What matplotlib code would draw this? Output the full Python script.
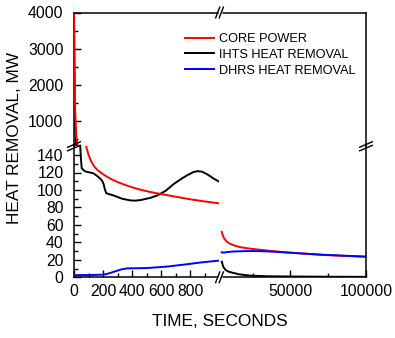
import matplotlib
matplotlib.use("Agg")
import matplotlib.pyplot as plt
from matplotlib.ticker import FixedLocator, MultipleLocator, NullLocator
from matplotlib.lines import Line2D

plt.rcParams['font.family'] = ['Liberation Sans', 'DejaVu Sans']

# ---- data: early transient (0-1000 s) ----
t_core_early = [0, 3, 8, 15, 25, 40, 60, 83, 90, 100, 115, 134, 160, 200, 249, 300, 364, 400,
                457, 526, 600, 687, 800, 900, 992]
core_early = [4000, 2600, 1300, 600, 330, 240, 180, 150, 146, 140, 134, 128, 123, 118, 113, 109,
              105, 103, 100.3, 97.6, 95.3, 92.6, 89.3, 86.8, 84.8]

t_ihts_early = [0, 4, 8, 14, 25, 42, 48, 53, 70, 88, 110, 134, 160, 180, 195, 203, 212, 221, 245,
                272, 330, 388, 420, 457, 526, 572, 630, 687, 740, 780, 820, 849, 880, 918, 960, 992]
ihts_early = [3950, 2000, 900, 330, 220, 152, 135, 125, 122, 120.7, 120, 119, 116, 113, 110, 107,
              101, 96.4, 95, 93.7, 90, 88, 87.8, 88.4, 91, 93.7, 99, 107, 113, 117, 120.5, 121.5,
              121, 117.7, 113, 110]

t_dhrs_early = [0, 100, 200, 225, 250, 275, 295, 330, 364, 430, 502, 641, 779, 872, 990]
dhrs_early = [2.5, 2.6, 3.0, 3.8, 5.0, 6.4, 7.5, 9.2, 10.2, 10.4, 10.6, 12.3, 15.0, 17.0, 19.0]

# ---- data: long-term (to 100000 s) ----
t_core_late = [4500, 5000, 5500, 6300, 7400, 8500, 10000, 13000, 16300, 21000, 27400, 38000,
               49500, 60000, 71600, 85000, 100000]
core_late = [52, 49, 46.5, 44, 41.7, 40, 38.3, 36.3, 34.7, 33.3, 32, 30, 28.2, 27, 25.6, 24.5, 23.6]

t_ihts_late = [4500, 5500, 7000, 9000, 11500, 16000, 24000, 35000, 50000, 70000, 100000]
ihts_late = [17.9, 12, 8.4, 6.5, 5.3, 3.4, 1.8, 1.2, 0.9, 0.7, 0.5]

t_dhrs_late = [4500, 6000, 8000, 12000, 20000, 30000, 40000, 49500, 60000, 71600, 85000, 100000]
dhrs_late = [28.6, 28.3, 28.9, 29.5, 30.0, 30.0, 29.2, 28.2, 27.0, 25.8, 24.8, 23.6]

labels = ['CORE POWER', 'IHTS HEAT REMOVAL', 'DHRS HEAT REMOVAL']
colors = ['#ff0000', '#000000', '#0000ff']

W, H = 395, 338
fig = plt.figure(figsize=(W / 100, H / 100), dpi=100)

def fx(px):
    return px / W

def fy(py):
    return 1 - py / H

xl0, xm, xr = 74, 219.5, 366
yt, ym, yb = 12.5, 146.3, 277.3

ax_tl = fig.add_axes([fx(xl0), fy(ym), fx(xm) - fx(xl0), fy(yt) - fy(ym)])
ax_tr = fig.add_axes([fx(xm), fy(ym), fx(xr) - fx(xm), fy(yt) - fy(ym)])
ax_bl = fig.add_axes([fx(xl0), fy(yb), fx(xm) - fx(xl0), fy(ym) - fy(yb)])
ax_br = fig.add_axes([fx(xm), fy(yb), fx(xr) - fx(xm), fy(ym) - fy(yb)])

series_early = [(t_core_early, core_early), (t_ihts_early, ihts_early), (t_dhrs_early, dhrs_early)]
series_late = [(t_core_late, core_late), (t_ihts_late, ihts_late), (t_dhrs_late, dhrs_late)]

lw = 1.4
handles = []
for ax in (ax_tl, ax_bl):
    for (t, v), c, lab in zip(series_early, colors, labels):
        ln, = ax.plot(t, v, color=c, lw=lw, label=lab, zorder=3 if c != '#ff0000' else 4)
        if ax is ax_bl:
            handles.append(ln)
for ax in (ax_tr, ax_br):
    for (t, v), c in zip(series_late, colors):
        ax.plot(t, v, color=c, lw=lw)

for ax in (ax_tl, ax_bl):
    ax.set_xlim(0, 1000)
for ax in (ax_tr, ax_br):
    ax.set_xlim(3000, 100000)
for ax in (ax_tl, ax_tr):
    ax.set_ylim(300, 4000)
for ax in (ax_bl, ax_br):
    ax.set_ylim(0, 150)

spine_w = 1.1
for ax in (ax_tl, ax_tr, ax_bl, ax_br):
    for s in ax.spines.values():
        s.set_linewidth(spine_w)
    ax.tick_params(which='both', direction='in', width=1.0, labelsize=11.3)
    ax.tick_params(which='major', length=5)
    ax.tick_params(which='minor', length=3)
    ax.patch.set_visible(False)

ax_tl.spines[['bottom', 'right']].set_visible(False)
ax_tr.spines[['bottom', 'left']].set_visible(False)
ax_bl.spines[['top', 'right']].set_visible(False)
ax_br.spines[['top', 'left']].set_visible(False)

# top-left: y ticks only
ax_tl.yaxis.set_major_locator(FixedLocator([1000, 2000, 3000, 4000]))
ax_tl.yaxis.set_minor_locator(MultipleLocator(500))
ax_tl.xaxis.set_major_locator(NullLocator())
ax_tl.tick_params(axis='y', pad=7.5)

# top-right: nothing
for a in (ax_tr.xaxis, ax_tr.yaxis):
    a.set_major_locator(NullLocator())
    a.set_minor_locator(NullLocator())

# bottom-left
ax_bl.yaxis.set_major_locator(FixedLocator(list(range(0, 141, 20))))
ax_bl.yaxis.set_minor_locator(FixedLocator(list(range(10, 141, 20))))
ax_bl.xaxis.set_major_locator(FixedLocator([0, 200, 400, 600, 800]))
ax_bl.xaxis.set_minor_locator(FixedLocator([100, 300, 500, 700, 900]))
ax_bl.tick_params(axis='y', pad=7.5)
ax_bl.tick_params(axis='x', pad=5)

# bottom-right
ax_br.yaxis.set_major_locator(NullLocator())
ax_br.xaxis.set_major_locator(FixedLocator([50000, 100000]))
ax_br.xaxis.set_minor_locator(FixedLocator([25000, 75000]))
ax_br.tick_params(axis='x', pad=5)

# axis break marks, drawn in pixel coordinates
def px_line(xs, ys, color='black', lw=1.0, z=10):
    fig.add_artist(Line2D([fx(x) for x in xs], [fy(y) for y in ys], color=color, lw=lw,
                          transform=fig.transFigure, zorder=z, solid_capstyle='butt'))

# top and bottom breaks on the time axis
for yc in (yt, yb):
    px_line([xm - 2.0, xm + 2.0], [yc, yc], color='white', lw=2.5, z=9)
    for dx in (-1.8, 1.8):
        px_line([xm + dx - 2.3, xm + dx + 2.3], [yc + 6, yc - 6])
# left and right breaks on the power axis
for xc in (xl0, xr):
    for dy in (-1.8, 1.8):
        px_line([xc - 7, xc + 7], [ym + dy + 3, ym + dy - 3])

fig.text(fx(15), fy(137.5), 'HEAT REMOVAL, MW', rotation=90, ha='center', va='center', fontsize=12.4)
fig.text(fx(220), fy(322), 'TIME, SECONDS', ha='center', va='center', fontsize=12.4)

fig.legend(handles=handles, labels=labels, loc='upper left',
           bbox_to_anchor=(fx(185), fy(33)), bbox_transform=fig.transFigure,
           frameon=False, borderpad=0, borderaxespad=0, fontsize=9.2,
           handlelength=2.27, handletextpad=0.4, labelspacing=0.3)

fig.savefig('out.png', dpi=100)
